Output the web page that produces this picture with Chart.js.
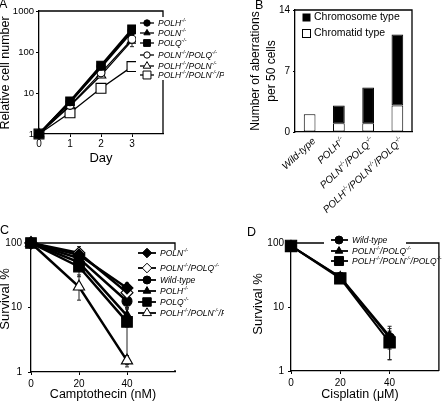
<!DOCTYPE html>
<html><head><meta charset="utf-8">
<script src="https://cdn.jsdelivr.net/npm/chart.js@4/dist/chart.umd.min.js"></script>
<style>
html,body{margin:0;padding:0;background:#fff;width:448px;height:406px;overflow:hidden;position:relative;}
canvas{position:absolute;}
.lbl{position:absolute;font:12.5px "Liberation Sans",Arial,sans-serif;line-height:12px;color:#000;}
</style></head><body>
<canvas id="cA" style="left:0px;top:0px" width="224" height="200"></canvas>
<canvas id="cB" style="left:224px;top:0px" width="224" height="232"></canvas>
<canvas id="cC" style="left:0px;top:200px" width="224" height="206"></canvas>
<canvas id="cD" style="left:224px;top:200px" width="224" height="206"></canvas>
<div class="lbl" style="left:-1px;top:-2px">A</div>
<div class="lbl" style="left:255px;top:-1px">B</div>
<div class="lbl" style="left:0px;top:224px">C</div>
<div class="lbl" style="left:247px;top:226px">D</div>
<script>
// ---------- Panel A data ----------
const dayA = [0, 1, 2, 3];
const xTicksA = [0, 1, 2, 3];
const yTicksA = [1, 10, 100, 1000];
const namesA = ['POLH{-/-}', 'POLN{-/-}', 'POLQ{-/-}', 'POLN{-/-}/POLQ{-/-}', 'POLH{-/-}/POLN{-/-}', 'POLH{-/-}/POLN{-/-}/POLQ{-/-}'];
const polhA = [1, 6.1, 45, 330];
const polnA = [1, 5.9, 42, 315];
const polqA = [1, 6.3, 47, 360];
const polnPolqA = [1, 5.0, 31, 205];
const polhPolnA = [1, 4.8, 27, 190];
const tripleA = [1, 3.3, 13, 44];
const polhPolnErrA = [null, null, [24, 31], [135, 230]];
const tripleErrA = [null, [3.0, 3.7], [10.5, 15], [40, 48]];

// ---------- Panel B data ----------
const catsB = ['Wild-type', 'POLH{-/-}', 'POLN{-/-}/POLQ{-/-}', 'POLH{-/-}/POLN{-/-}/POLQ{-/-}'];
const chromatidB = [2.05, 1.0, 1.0, 3.05];
const chromosomeB = [0, 2.05, 4.1, 8.15];
const yTicksB = [0, 7, 14];
const seriesB = ['Chromosome type', 'Chromatid type'];

// ---------- Panel C data ----------
const doseC = [0, 20, 40];
const xTicksC = [0, 20, 40];
const yTicksC = [1, 10, 100];
const namesC = ['POLN{-/-}', 'POLN{-/-}/POLQ{-/-}', 'Wild-type', 'POLH{-/-}', 'POLQ{-/-}', 'POLH{-/-}/POLN{-/-}/POLQ{-/-}'];
const polnC = [100, 65, 20];
const polnPolqC = [100, 70, 17];
const wtC = [100, 58, 12.5];
const polhC = [100, 50, 7.5];
const polqC = [100, 43, 6.0];
const tripleC = [100, 21, 1.5];
const polnErrC = [null, [55, 75], [16, 24]];
const polnPolqErrC = [null, [58, 88], [14, 20]];
const wtErrC = [null, [50, 66], [9.5, 16]];
const polhErrC = [null, [40, 60], [5, 10]];
const polqErrC = [null, [30, 55], [1.3, 9.5]];
const tripleErrC = [null, [13, 32], [1.2, 1.8]];

// ---------- Panel D data ----------
const doseD = [0, 20, 40];
const xTicksD = [0, 20, 40];
const yTicksD = [1, 10, 100];
const namesD = ['Wild-type', 'POLN{-/-}/POLQ{-/-}', 'POLH{-/-}/POLN{-/-}/POLQ{-/-}'];
const wtD = [90, 29, 3.3];
const polnPolqD = [90, 29.5, 3.5];
const tripleD = [90, 28, 2.8];
const wtErrD = [null, [26, 32], [1.5, 5.0]];
const polnPolqErrD = [null, [26, 33], [2.2, 4.6]];
const tripleErrD = [null, [25, 31], [1.5, 4.2]];

// ---------- helpers ----------
const FONT = '"Liberation Sans", Arial, Helvetica, sans-serif';
function parseSegs(t){
  const segs=[]; const re=/\{([^}]*)\}/g; let last=0, m;
  while((m=re.exec(t))){
    if(m.index>last) segs.push({t:t.slice(last,m.index),sup:false});
    segs.push({t:m[1],sup:true}); last=re.lastIndex;
  }
  if(last<t.length) segs.push({t:t.slice(last),sup:false});
  return segs;
}
function richText(ctx, text, x, y, size, o){
  o = o || {};
  const segs = parseSegs(text);
  const st = o.italic ? 'italic ' : '';
  const fontOf = s => st + (s.sup ? size*0.62 : size) + 'px ' + FONT;
  const widths = segs.map(s => { ctx.font = fontOf(s); return ctx.measureText(s.t).width; });
  const total = widths.reduce((a,b)=>a+b, 0);
  let cx = o.align === 'right' ? x - total : (o.align === 'center' ? x - total/2 : x);
  const base = o.middle ? y + size*0.36 : y;
  ctx.textAlign = 'left'; ctx.textBaseline = 'alphabetic';
  segs.forEach((s,i) => {
    ctx.font = fontOf(s);
    ctx.fillText(s.t, cx, s.sup ? base - size*0.42 : base);
    cx += widths[i];
  });
}
function xy(xs, ys){ return xs.map((x,i)=>({x:x, y:ys[i]})); }

function logAxis(ticks, width, pad, fs){
  return { type:'logarithmic', position:'left', min: ticks[0], max: ticks[ticks.length-1],
    afterBuildTicks: s => { s.ticks = ticks.map(v=>({value:v})); },
    afterFit: s => { s.width = width; },
    ticks: { callback: v => String(v), color:'#000', font:{family:FONT, size:fs}, padding:pad, autoSkip:false },
    grid: { display:true, drawOnChartArea:false, drawTicks:true, tickLength:3, color:'#000', lineWidth:1 },
    border: { display:true, color:'#000', width:1.3 } };
}
function linAxis(min, max, ticks, height, pad, fs){
  return { type:'linear', position:'bottom', min:min, max:max,
    afterBuildTicks: s => { s.ticks = ticks.map(v=>({value:v})); },
    afterFit: s => { s.height = height; },
    ticks: { color:'#000', font:{family:FONT, size:fs}, padding:pad, autoSkip:false, maxRotation:0 },
    grid: { display:true, drawOnChartArea:false, drawTicks:true, tickLength:3, color:'#000', lineWidth:1 },
    border: { display:true, color:'#000', width:1.3 } };
}
function errPlugin(specs){
  return { id:'err', beforeDatasetsDraw(chart){
    const ctx = chart.ctx, xs = chart.scales.x, ys = chart.scales.y;
    ctx.save(); ctx.strokeStyle = '#222'; ctx.lineWidth = 1;
    specs.forEach(sp => {
      sp.err.forEach((e,i) => {
        if(!e) return;
        const x = xs.getPixelForValue(sp.x[i]);
        const y1 = ys.getPixelForValue(e[0]), y2 = ys.getPixelForValue(e[1]);
        ctx.beginPath();
        ctx.moveTo(x, y1); ctx.lineTo(x, y2);
        ctx.moveTo(x-2, y1); ctx.lineTo(x+2, y1);
        ctx.moveTo(x-2, y2); ctx.lineTo(x+2, y2);
        ctx.stroke();
      });
    });
    ctx.restore();
  }};
}
function decorPlugin(o){
  return { id:'decor', afterDraw(chart){
    const ctx = chart.ctx, a = chart.chartArea;
    ctx.save();
    ctx.strokeStyle = '#000'; ctx.lineWidth = 1.3;
    ctx.beginPath(); ctx.moveTo(a.left, a.top); ctx.lineTo(a.right, a.top); ctx.lineTo(a.right, a.bottom); ctx.stroke();
    ctx.fillStyle = '#000';
    (o.titles||[]).forEach(t => {
      ctx.save();
      ctx.translate(t.x, t.y);
      if(t.rot) ctx.rotate(-Math.PI/2);
      ctx.font = t.size + 'px ' + FONT; ctx.textAlign = 'center'; ctx.textBaseline = 'middle';
      ctx.fillText(t.text, 0, 0);
      ctx.restore();
    });
    ctx.restore();
  }};
}
function legendPlugin(items, o){
  return { id:'lg', afterDraw(chart){
    const ctx = chart.ctx;
    ctx.save();
    if(o.box){ ctx.fillStyle = '#fff'; ctx.fillRect(o.box[0], o.box[1], o.box[2], o.box[3]); }
    items.forEach((it, i) => {
      const y = o.rows[i];
      ctx.strokeStyle = '#000'; ctx.lineWidth = it.lw;
      ctx.beginPath(); ctx.moveTo(o.x0, y); ctx.lineTo(o.x1, y); ctx.stroke();
      ctx.fillStyle = it.fill; ctx.strokeStyle = '#000'; ctx.lineWidth = 1;
      Chart.helpers.drawPoint(ctx, {pointStyle: it.style, radius: it.r, borderWidth: 1, rotation: 0}, o.mx, y);
      ctx.fillStyle = '#000';
      richText(ctx, it.label, o.tx, y, o.size, {italic:true, middle:true});
    });
    ctx.restore();
  }};
}
function ds(data, style, fill, r, lw){
  return { data:data, borderColor:'#000', borderWidth:lw, tension:0, clip:false,
    pointStyle:style, pointRadius:r, pointBackgroundColor:fill, pointBorderColor:'#000', pointBorderWidth:1.1 };
}
const base = { responsive:false, animation:false, events:[],
  plugins:{ legend:{display:false}, tooltip:{enabled:false} } };

// ---------- Chart A ----------
const stA = [
  {style:'circle', fill:'#000', r:4, lw:2},
  {style:'triangle', fill:'#000', r:4.5, lw:2},
  {style:'rect', fill:'#000', r:6, lw:2},
  {style:'circle', fill:'#fff', r:4, lw:1.3},
  {style:'triangle', fill:'#fff', r:5.5, lw:1.3},
  {style:'rect', fill:'#fff', r:7, lw:1.3}
];
const valsA = [polhA, polnA, polqA, polnPolqA, polhPolnA, tripleA];
new Chart(document.getElementById('cA'), {
  type:'line',
  data:{ datasets: valsA.map((v,i)=>ds(xy(dayA, v), stA[i].style, stA[i].fill, stA[i].r, stA[i].lw)) },
  options: Object.assign({}, base, {
    layout:{ padding:{left:0, top:11, right:61, bottom:0} },
    scales:{ x: linAxis(0, 4, xTicksA, 66, 1, 10), y: logAxis(yTicksA, 39, 2, 9.5) }
  }),
  plugins:[ errPlugin([{x:dayA, err:polhPolnErrA}, {x:dayA, err:tripleErrA}]),
    decorPlugin({titles:[{text:'Relative cell number', x:6, y:73, rot:true, size:12.5},{text:'Day', x:101, y:158, size:13}]}),
    legendPlugin(namesA.map((n,i)=>({label:n, style:stA[i].style, fill:stA[i].fill, r:stA[i].r*0.8, lw:1.3})),
      {box:[136,17,88,63], rows:[23,33,43,55,66,75], x0:140, x1:154, mx:147, tx:158, size:8.5}) ]
});

// ---------- Chart B ----------
new Chart(document.getElementById('cB'), {
  type:'bar',
  data:{ labels: catsB, datasets:[
    { label: seriesB[1], data: chromatidB, backgroundColor:'#fff', borderColor:'#000', borderWidth:1, borderSkipped:false, categoryPercentage:0.8, barPercentage:0.5 },
    { label: seriesB[0], data: chromosomeB, backgroundColor:'#000', borderColor:'#000', borderWidth:1, borderSkipped:false, categoryPercentage:0.8, barPercentage:0.5 }
  ]},
  options: Object.assign({}, base, {
    layout:{ padding:{left:0, top:10, right:36, bottom:0} },
    scales:{
      x:{ type:'category', stacked:true, afterFit: s => { s.height = 100; },
        ticks:{display:false}, grid:{display:false}, border:{display:true, color:'#000', width:1.3} },
      y:{ type:'linear', stacked:true, min:0, max:14,
        afterBuildTicks: s => { s.ticks = yTicksB.map(v=>({value:v})); },
        afterFit: s => { s.width = 71; },
        ticks:{ color:'#000', font:{family:FONT, size:10}, padding:3 },
        grid:{ display:true, drawOnChartArea:false, drawTicks:true, tickLength:2, color:'#000' },
        border:{ display:true, color:'#000', width:1.3 } }
    }
  }),
  plugins:[
    decorPlugin({titles:[{text:'Number of aberrations', x:32, y:71, rot:true, size:12},{text:'per 50 cells', x:48, y:71, rot:true, size:12}]}),
    { id:'bxl', afterDraw(chart){
      const ctx = chart.ctx, xs = chart.scales.x, a = chart.chartArea;
      ctx.save(); ctx.fillStyle = '#000';
      catsB.forEach((c,i) => {
        const x = xs.getPixelForTick(i);
        ctx.save(); ctx.translate(x+4, a.bottom+7); ctx.rotate(-43*Math.PI/180);
        richText(ctx, c, 0, 0, 10, {italic:true, align:'right', middle:true});
        ctx.restore();
      });
      // legend
      ctx.lineWidth = 1; ctx.strokeStyle = '#000';
      ctx.fillStyle = '#000'; ctx.fillRect(78.5, 13.5, 8, 8);
      ctx.fillStyle = '#fff'; ctx.fillRect(78.5, 29.5, 8, 8); ctx.strokeRect(78.5, 29.5, 8, 8);
      ctx.fillStyle = '#000'; ctx.font = '10.5px ' + FONT; ctx.textAlign = 'left'; ctx.textBaseline = 'middle';
      ctx.fillText(seriesB[0], 90, 17.5); ctx.fillText(seriesB[1], 90, 33.5);
      ctx.restore();
    }}
  ]
});

// ---------- Chart C ----------
const stC = [
  {style:'rectRot', fill:'#000', r:6, lw:2.5},
  {style:'rectRot', fill:'#fff', r:6, lw:2.5},
  {style:'circle', fill:'#000', r:5, lw:2.5},
  {style:'triangle', fill:'#000', r:5.5, lw:2.5},
  {style:'rect', fill:'#000', r:7.5, lw:2.5},
  {style:'triangle', fill:'#fff', r:6.5, lw:2.5}
];
const valsC = [polnC, polnPolqC, wtC, polhC, polqC, tripleC];
new Chart(document.getElementById('cC'), {
  type:'line',
  data:{ datasets: valsC.map((v,i)=>ds(xy(doseC, v), stC[i].style, stC[i].fill, stC[i].r, stC[i].lw)) },
  options: Object.assign({}, base, {
    layout:{ padding:{left:0, top:43, right:49, bottom:0} },
    scales:{ x: linAxis(0, 60, xTicksC, 34, 3, 10), y: logAxis(yTicksC, 31, 6, 10) }
  }),
  plugins:[ errPlugin([polnErrC, polnPolqErrC, wtErrC, polhErrC, polqErrC, tripleErrC].map(e=>({x:doseC, err:e}))),
    decorPlugin({titles:[{text:'Survival %', x:5, y:99, rot:true, size:13},{text:'Camptothecin (nM)', x:103, y:195, size:12.5}]}),
    legendPlugin(namesC.map((n,i)=>({label:n, style:stC[i].style, fill:stC[i].fill, r:stC[i].r*0.8, lw:1.8})),
      {box:[134,50,90,120], rows:[53,68,80,91,102,113], x0:138, x1:156, mx:147, tx:160, size:8.5}) ]
});

// ---------- Chart D ----------
const stD = [
  {style:'circle', fill:'#000', r:5, lw:2},
  {style:'triangle', fill:'#000', r:5.5, lw:2},
  {style:'rect', fill:'#000', r:8, lw:2}
];
const valsD = [wtD, polnPolqD, tripleD];
new Chart(document.getElementById('cD'), {
  type:'line',
  data:{ datasets: valsD.map((v,i)=>ds(xy(doseD, v), stD[i].style, stD[i].fill, stD[i].r, stD[i].lw)) },
  options: Object.assign({}, base, {
    layout:{ padding:{left:0, top:43, right:2, bottom:0} },
    scales:{ x: linAxis(0, 60, xTicksD, 35, 3, 10), y: logAxis(yTicksD, 67, 4, 10) }
  }),
  plugins:[ errPlugin([wtErrD, polnPolqErrD, tripleErrD].map(e=>({x:doseD, err:e}))),
    decorPlugin({titles:[{text:'Survival %', x:34, y:104, rot:true, size:13},{text:'Cisplatin (\u03BCM)', x:136, y:195, size:12.5}]}),
    legendPlugin(namesD.map((n,i)=>({label:n, style:stD[i].style, fill:stD[i].fill, r:stD[i].r*0.8, lw:1.8})),
      {box:[100,36,82,12], rows:[40,51,61], x0:107, x1:124, mx:115, tx:128, size:8.5}) ]
});
</script>
</body></html>
